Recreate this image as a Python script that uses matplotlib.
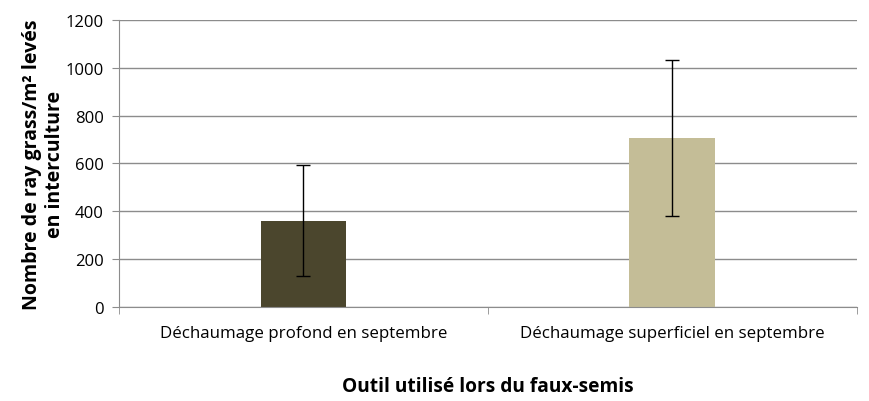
import numpy as np
import matplotlib.pyplot as plt
from matplotlib.ticker import FixedLocator

plt.rcParams['font.family'] = ['Open Sans', 'DejaVu Sans']

categories = ['Déchaumage profond en septembre', 'Déchaumage superficiel en septembre']
values = [360, 707]
err_low = [130, 380]
err_high = [594, 1033]
colors = ['#4B462D', '#C4BD97']

fig = plt.figure(figsize=(8.7, 4.02), dpi=100)
ax = fig.add_axes([0.1368, 0.2338, 0.8482, 0.714])

x = np.arange(len(categories))
yerr = [np.array(values) - np.array(err_low), np.array(err_high) - np.array(values)]
ax.bar(x, values, width=0.233, color=colors, zorder=2)
ax.errorbar(x, values, yerr=yerr, fmt='none', ecolor='black', elinewidth=1,
            capsize=5, capthick=1, zorder=3)

ax.set_xlim(-0.5, 1.5)
ax.set_ylim(0, 1200)
ax.set_yticks(np.arange(0, 1201, 200))
ax.yaxis.grid(True, color='#8c8c8c', linewidth=1, zorder=0)
ax.set_axisbelow(True)

ax.set_xticks(x)
ax.set_xticklabels(categories, fontsize=12.2)
ax.tick_params(axis='x', which='major', length=0, pad=13)
ax.xaxis.set_minor_locator(FixedLocator([-0.5, 0.5, 1.5]))
ax.tick_params(axis='x', which='minor', length=5, color='#8c8c8c', direction='out')
ax.tick_params(axis='y', labelsize=12, length=5, color='#8c8c8c', pad=6)

for s in ['top', 'right']:
    ax.spines[s].set_visible(False)
for s in ['left', 'bottom']:
    ax.spines[s].set_color('#8c8c8c')

ax.set_ylabel('Nombre de ray grass/m² levés\nen interculture', fontsize=14,
              fontweight='bold', labelpad=0, linespacing=1.25)
ax.set_xlabel('Outil utilisé lors du faux-semis', fontsize=13.8,
              fontweight='bold', labelpad=25)

fig.savefig('out.png', dpi=100)
